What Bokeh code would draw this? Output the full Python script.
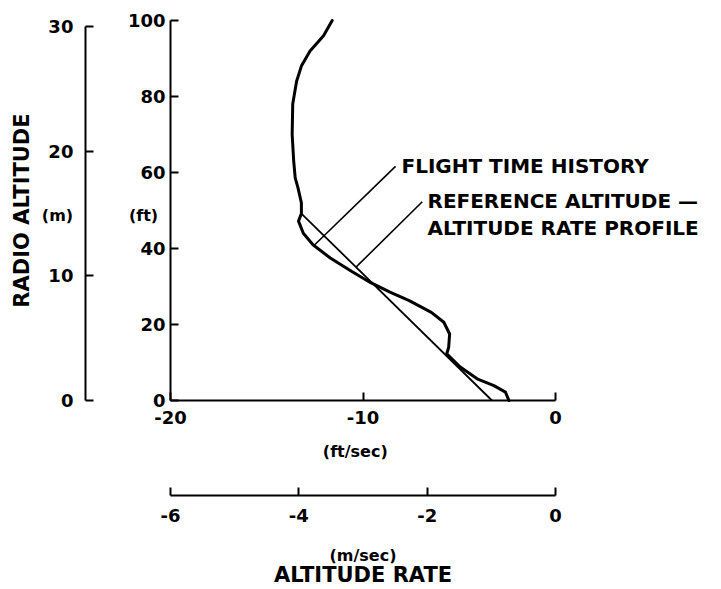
import math
import numpy as np
from bokeh.plotting import figure
from bokeh.models import LinearAxis, Range1d, FixedTicker, Label
from bokeh.embed import file_html
from bokeh.resources import INLINE

# ---------------- data ----------------
# Flight time history: radio altitude (ft) vs altitude rate (ft/sec)
flight_alt_ft = [100, 96, 92, 88, 84, 78, 70, 63, 58.5, 56, 52, 49.2, 47.2, 44,
                 41, 37.5, 34, 31, 28.5, 26.3, 23.2, 20.6, 17.5, 14.0, 12.3,
                 8.8, 5.7, 3.9, 2.2, 0]
flight_rate_fps = [-11.6, -12.05, -12.75, -13.2, -13.45, -13.65, -13.68, -13.6,
                   -13.52, -13.38, -13.2, -13.2, -13.35, -13.1, -12.6, -11.7,
                   -10.6, -9.6, -8.6, -7.6, -6.45, -5.8, -5.5, -5.55, -5.65,
                   -4.95, -4.07, -3.2, -2.6, -2.42]

# Reference altitude - altitude rate profile
ref_alt_ft = [49.2, 0.0]
ref_rate_fps = [-13.2, -3.3]

# Axis ticks
ft_ticks = [0, 20, 40, 60, 80, 100]
m_ticks = [0, 10, 20, 30]
fps_ticks = [-20, -10, 0]
fps_tick_labels = ["-20", "-10", "0"]
mps_ticks = [-6, -4, -2, 0]
mps_tick_labels = ["-6", "-4", "-2", "0"]

FT_PER_M = 3.281
FPS_PER_MPS_AXIS = 20.0 / 6.0  # the m/sec scale spans the same width as -20..0 ft/sec

FONT = "DejaVu Sans"

W, H = 720, 588
# plotting area: ft/sec -20..0 over 385 px starting at x=170, ft 0..100 over 380 px ending at y=400
px_per_fps = 385 / 20.0
px_per_ft = 380 / 100.0
x0 = -20 - 170 / px_per_fps
x1 = -20 + (W - 170) / px_per_fps
y1 = 400 / px_per_ft
y0 = (400 - H) / px_per_ft

p = figure(width=W, height=H,
           x_range=Range1d(x0, x1), y_range=Range1d(y0, y1),
           output_backend="svg", toolbar_location=None,
           min_border=0, min_border_left=0, min_border_right=0,
           min_border_top=0, min_border_bottom=0)
p.outline_line_color = None
p.grid.visible = False
p.background_fill_color = "white"
p.border_fill_color = "white"

p.extra_y_ranges = {"m": Range1d(y0 / FT_PER_M, y1 / FT_PER_M)}
p.extra_x_ranges = {"mps": Range1d(x0 / FPS_PER_MPS_AXIS, x1 / FPS_PER_MPS_AXIS)}


def style(ax, ticks, labels=None, size="18px", standoff=6):
    ax.ticker = FixedTicker(ticks=ticks)
    if labels is not None:
        ax.major_label_overrides = {t: l for t, l in zip(ticks, labels)}
    ax.minor_tick_line_color = None
    ax.major_tick_in = 8
    ax.major_tick_out = 0
    ax.axis_line_width = 2
    ax.axis_line_color = "black"
    ax.major_tick_line_width = 2
    ax.major_tick_line_color = "black"
    ax.major_label_text_font = FONT
    ax.major_label_text_font_style = "bold"
    ax.major_label_text_font_size = size
    ax.major_label_text_color = "black"
    ax.major_label_standoff = standoff


# main ft axis (left) and ft/sec axis (below)
ft_axis = p.yaxis[0]
style(ft_axis, ft_ticks, standoff=5)
ft_axis.bounds = (0, 100)
ft_axis.fixed_location = -20

fps_axis = p.xaxis[0]
style(fps_axis, fps_ticks, fps_tick_labels, standoff=10)
fps_axis.bounds = (-20, 0)
fps_axis.fixed_location = 0

# secondary metre axis, drawn left of the ft axis
m_axis = LinearAxis(y_range_name="m", fixed_location=-24.42, bounds=(0, 30))
style(m_axis, m_ticks, standoff=12)
p.add_layout(m_axis, "left")

# secondary m/sec axis, drawn below the ft/sec axis
mps_axis = LinearAxis(x_range_name="mps", fixed_location=-25.0, bounds=(-6, 0))
style(mps_axis, mps_ticks, mps_tick_labels, standoff=13)
p.add_layout(mps_axis, "below")

# curves
p.line(flight_rate_fps, flight_alt_ft, line_color="black", line_width=3,
       line_join="round", line_cap="round")
p.line(ref_rate_fps, ref_alt_ft, line_color="black", line_width=1.8)

# leader lines from the curves to the labels
fl_start_alt = 40.8
fl_start_rate = float(np.interp(fl_start_alt, flight_alt_ft[::-1], flight_rate_fps[::-1]))
ref_start_alt = 35.1
ref_start_rate = float(np.interp(ref_start_alt, ref_alt_ft[::-1], ref_rate_fps[::-1]))
p.line([fl_start_rate, -8.31], [fl_start_alt, 61.6], line_color="black", line_width=1.6)
p.line([ref_start_rate, -6.92], [ref_start_alt, 52.3], line_color="black", line_width=1.6)


def lab(x, y, text, size, align="left", angle=0.0, baseline="middle"):
    p.add_layout(Label(x=x, y=y, text=text, text_align=align,
                       text_baseline=baseline, angle=angle,
                       text_font=FONT, text_font_style="bold",
                       text_font_size=size, text_color="black"))


lab(-8.0, 61.8, "FLIGHT TIME HISTORY", "20px")
lab(-6.65, 52.4, "REFERENCE ALTITUDE \u2014", "20px")
lab(-6.65, 45.5, "ALTITUDE RATE PROFILE", "20px")

lab(-21.4, 48.7, "(ft)", "16px", align="center")
lab(-25.87, 48.7, "(m)", "16px", align="center")
lab(-27.69, 50.0, "RADIO ALTITUDE", "21px", align="center", angle=math.pi / 2)

lab(-10.4, -13.4, "(ft/sec)", "16px", align="center")
lab(-10.0, -40.8, "(m/sec)", "16px", align="center")
lab(-10.0, -46.0, "ALTITUDE RATE", "21px", align="center")

open("out.html", "w").write(file_html(p, INLINE))
